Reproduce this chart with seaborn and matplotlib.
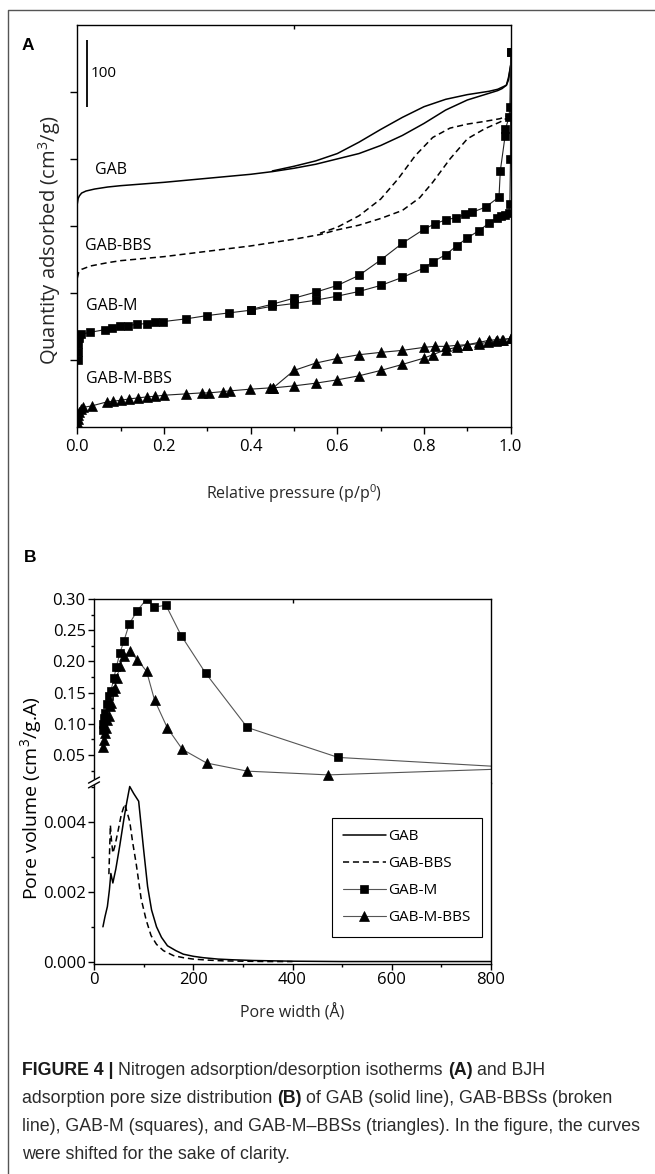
import numpy as np
import matplotlib
matplotlib.use("Agg")
import matplotlib.pyplot as plt
import seaborn as sns
from matplotlib.lines import Line2D
from matplotlib.ticker import MultipleLocator, FixedLocator, FormatStrFormatter
from matplotlib import font_manager

# ---------------- data: panel A (isotherms, curves shifted vertically) -------------
gab_ads_x = [0, 0.002, 0.005, 0.01, 0.02, 0.04, 0.07, 0.1, 0.2, 0.3, 0.4, 0.45, 0.5, 0.55,
             0.6, 0.65, 0.7, 0.75, 0.8, 0.85, 0.9, 0.95, 0.97, 0.98, 0.99, 0.995, 1.0]
gab_ads_y = [333, 341, 345, 349, 352, 355, 358, 360, 365, 371, 377, 381, 386, 392,
             400, 408, 420, 435, 453, 473, 488, 498, 502, 505, 510, 518, 540]
gab_des_x = [1.0, 0.995, 0.99, 0.97, 0.95, 0.9, 0.85, 0.8, 0.75, 0.7, 0.65, 0.6, 0.55, 0.5, 0.45]
gab_des_y = [540, 522, 510, 504, 501, 496, 489, 478, 462, 444, 425, 408, 397, 389, 382]

bbs_ads_x = [0, 0.003, 0.01, 0.03, 0.07, 0.1, 0.2, 0.3, 0.4, 0.5, 0.56, 0.6, 0.65, 0.7,
             0.75, 0.79, 0.82, 0.86, 0.9, 0.94, 0.975, 0.995, 1.0]
bbs_ads_y = [222, 230, 235, 240, 245, 248, 254, 262, 270, 280, 287, 294, 301, 311,
             323, 342, 365, 400, 430, 445, 455, 462, 468]
bbs_des_x = [1.0, 0.995, 0.975, 0.94, 0.9, 0.86, 0.82, 0.78, 0.74, 0.7, 0.65, 0.6, 0.56]
bbs_des_y = [468, 465, 460, 456, 452, 446, 432, 405, 370, 340, 315, 298, 289]

m_ads_x = [0.0005, 0.001, 0.002, 0.004, 0.008, 0.03, 0.064, 0.079, 0.098, 0.118, 0.137,
           0.16, 0.179, 0.198, 0.25, 0.30, 0.35, 0.40, 0.45, 0.50, 0.55, 0.60, 0.65, 0.70,
           0.75, 0.80, 0.82, 0.85, 0.875, 0.90, 0.927, 0.95, 0.968, 0.977, 0.987, 0.995,
           0.998, 0.9995, 1.0]
m_ads_y = [100, 112, 124, 133, 138, 141, 145, 147, 150, 151, 153, 154, 156, 157, 161, 166,
           170, 174, 180, 184, 189, 195, 202, 211, 223, 237, 246, 257, 270, 282, 293, 304,
           311, 314, 316, 319, 332, 400, 560]
m_des_x = [1.0, 0.998, 0.996, 0.988, 0.987, 0.976, 0.973, 0.942, 0.91, 0.895, 0.873, 0.85,
           0.825, 0.80, 0.75, 0.70, 0.65, 0.60, 0.55, 0.50, 0.45, 0.40]
m_des_y = [560, 478, 462, 445, 434, 382, 343, 328, 320, 317, 312, 309, 303, 295, 274, 249,
           226, 211, 201, 192, 183, 175]

mb_ads_x = [0.0005, 0.001, 0.002, 0.004, 0.008, 0.014, 0.033, 0.068, 0.083, 0.10, 0.12,
            0.14, 0.16, 0.18, 0.20, 0.25, 0.287, 0.304, 0.337, 0.352, 0.398, 0.445, 0.452,
            0.50, 0.55, 0.60, 0.65, 0.70, 0.75, 0.80, 0.82, 0.85, 0.875, 0.90, 0.927, 0.95,
            0.968, 0.983, 1.0]
mb_ads_y = [4, 11, 17, 22, 26, 29, 31, 37, 38, 39.5, 41.5, 43, 44.5, 45.5, 47, 49, 50.5,
            50.5, 52.5, 53.5, 56, 58, 58, 61, 65, 70, 76, 84, 93, 102.5, 107.5, 115, 118.5,
            122.5, 126, 129, 130, 130, 132]
mb_des_x = [1.0, 0.98, 0.965, 0.948, 0.927, 0.90, 0.875, 0.85, 0.825, 0.80, 0.75, 0.70,
            0.65, 0.60, 0.55, 0.50, 0.452]
mb_des_y = [132, 130, 128, 126, 124, 122.5, 121.5, 120, 120, 118.5, 114, 111, 107.5, 102,
            95, 84, 58]

series_names = ["GAB", "GAB-BBS", "GAB-M", "GAB-M-BBS"]
scale_bar_value = 100

# ---------------- data: panel B (BJH pore size distribution) -----------------------
gm_w = [18, 19, 21, 23, 26, 30, 34, 40, 45, 52, 60, 71, 87, 106, 121, 145, 176, 225, 309,
        492, 900]
gm_v = [0.090, 0.100, 0.110, 0.117, 0.132, 0.144, 0.152, 0.173, 0.191, 0.213, 0.232, 0.260,
        0.281, 0.300, 0.287, 0.290, 0.241, 0.181, 0.094, 0.046, 0.0275]

gmb_w = [18, 20, 23, 25, 26, 30, 32, 35, 38, 42, 46, 52, 60, 72, 87, 106, 122, 148, 178,
         227, 309, 472, 900]
gmb_v = [0.063, 0.074, 0.085, 0.093, 0.106, 0.112, 0.128, 0.133, 0.152, 0.157, 0.173,
         0.192, 0.208, 0.216, 0.203, 0.184, 0.138, 0.093, 0.059, 0.037, 0.024, 0.018, 0.0295]

g_w = [18, 22, 27, 31, 34, 38, 44, 52, 60, 66, 72, 80, 90, 100, 108, 116, 126, 136, 148,
       165, 180, 200, 220, 250, 280, 320, 400, 500, 600, 700, 800]
g_v = [0.00100, 0.00128, 0.00158, 0.00205, 0.00252, 0.00225, 0.00265, 0.00332, 0.00405,
       0.00455, 0.00500, 0.00480, 0.00458, 0.00320, 0.00215, 0.00148, 0.00100, 0.00070,
       0.00046, 0.00032, 0.00022, 0.00016, 0.00012, 0.00008, 0.00006, 0.00004, 0.00002,
       0.00001, 0.00001, 0.00001, 0.00001]

gb_w = [30, 33, 35, 38, 42, 48, 55, 62, 66, 72, 78, 85, 95, 105, 115, 126, 140, 160, 180,
        200, 230, 260, 300, 350, 400]
gb_v = [0.0025, 0.0039, 0.0035, 0.0031, 0.0033, 0.0037, 0.0042, 0.0045, 0.0043, 0.0040,
        0.0034, 0.0028, 0.0018, 0.0012, 0.00075, 0.0005, 0.00032, 0.00018, 0.00012, 0.00008,
        0.00005, 0.00003, 0.00002, 0.00001, 0.00001]

# ---------------- style ------------------------------------------------------------
sns.set_theme(style="ticks")
plt.rcParams["font.family"] = ["Open Sans", "DejaVu Sans"]
plt.rcParams["mathtext.fontset"] = "custom"
plt.rcParams["mathtext.rm"] = "Open Sans"
plt.rcParams["mathtext.it"] = "Open Sans:italic"
plt.rcParams["mathtext.bf"] = "Open Sans:bold"
plt.rcParams["axes.linewidth"] = 1.0
plt.rcParams["axes.edgecolor"] = "black"
plt.rcParams["xtick.color"] = "black"
plt.rcParams["ytick.color"] = "black"
plt.rcParams["text.color"] = "black"

W, H = 655, 1174
fig = plt.figure(figsize=(W / 100, H / 100), dpi=100)
fig.patch.set_facecolor("white")


def fx(px):
    return px / W


def fy(py):
    return 1 - py / H


def curve(ax, x, y, **kw):
    sns.lineplot(x=np.asarray(x, float), y=np.asarray(y, float), ax=ax, sort=False,
                 estimator=None, legend=False, **kw)
    return ax.lines[-1]


TICK_FS = 12
SOLID = dict(color="black", linewidth=1.1)
DASHED = dict(color="black", linewidth=1.1, linestyle=(0, (4, 2.5)))
SQ_A = dict(color="#222222", linewidth=0.8, marker="s", markersize=6.2,
            markerfacecolor="black", markeredgecolor="black", markeredgewidth=0.5)
TR_A = dict(color="#222222", linewidth=0.8, marker="^", markersize=7,
            markerfacecolor="black", markeredgecolor="black", markeredgewidth=0.5)
SQ_B = dict(color="#555555", linewidth=0.8, marker="s", markersize=5.6,
            markerfacecolor="black", markeredgecolor="black", markeredgewidth=0.5)
TR_B = dict(color="#555555", linewidth=0.8, marker="^", markersize=6.5,
            markerfacecolor="black", markeredgecolor="black", markeredgewidth=0.5)

# ---------------- panel A -----------------------------------------------------------
axA = fig.add_axes([fx(77.3), fy(426.7), fx(433.4), 401.7 / H])
curve(axA, gab_ads_x, gab_ads_y, **SOLID)
curve(axA, gab_des_x, gab_des_y, **SOLID)
curve(axA, bbs_ads_x, bbs_ads_y, **DASHED)
curve(axA, bbs_des_x, bbs_des_y, **DASHED)
curve(axA, m_ads_x, m_ads_y, **SQ_A)
curve(axA, m_des_x, m_des_y, **SQ_A)
curve(axA, mb_ads_x, mb_ads_y, **TR_A)
curve(axA, mb_des_x, mb_des_y, **TR_A)

axA.set_xlim(0, 1.0)
axA.set_ylim(0, 600)
axA.xaxis.set_major_locator(MultipleLocator(0.2))
axA.xaxis.set_minor_locator(MultipleLocator(0.1))
axA.xaxis.set_major_formatter(FormatStrFormatter("%.1f"))
axA.yaxis.set_major_locator(FixedLocator([100, 200, 300, 400, 500]))
axA.tick_params(axis="x", which="major", direction="out", length=5, width=1,
                labelsize=TICK_FS, pad=4)
axA.tick_params(axis="x", which="minor", direction="out", length=3, width=1)
axA.tick_params(axis="y", which="major", direction="out", length=5, width=1,
                labelleft=False)
axA.set_xlabel("Relative pressure (p/p$^{0}$)", fontsize=11.5)
axA.xaxis.set_label_coords(0.5, -0.167)
axA.xaxis.label.set_va("center")
axA.set_ylabel("Quantity adsorbed (cm$^{3}$/g)", fontsize=14.5)
axA.yaxis.set_label_coords(-0.063, 0.465)
axA.yaxis.label.set_va("center")
# single inward tick on the top axis
axA_top = axA.secondary_xaxis("top")
axA_top.set_xticks([0.5])
axA_top.tick_params(direction="in", length=3, width=1, labeltop=False)
axA_top.spines["top"].set_visible(False)

label_pos_x = [0.041, 0.018, 0.02, 0.02]
label_pos_y = [383, 270, 181, 71]
for name, lx, ly in zip(series_names, label_pos_x, label_pos_y):
    axA.text(lx, ly, name, fontsize=11.5, va="center", ha="left")

# scale bar "100"
axA.vlines(0.022, 578 - scale_bar_value, 578, color="black", linewidth=1.3)
axA.text(0.03, 578 - scale_bar_value / 2, str(scale_bar_value), fontsize=11,
         va="center", ha="left")

# ---------------- panel B (broken y axis) ------------------------------------------
axB1 = fig.add_axes([fx(94), fy(783), fx(397), 184 / H])
axB2 = fig.add_axes([fx(94), fy(964), fx(397), 181 / H])

hM = curve(axB1, gm_w, gm_v, **SQ_B)
hMB = curve(axB1, gmb_w, gmb_v, **TR_B)
hG = curve(axB2, g_w, g_v, **SOLID)
hGB = curve(axB2, gb_w, gb_v, **DASHED)

for ax in (axB1, axB2):
    ax.set_xlim(0, 800)

axB1.set_ylim(0.005, 0.30)
axB1.yaxis.set_major_locator(MultipleLocator(0.05))
axB1.yaxis.set_minor_locator(MultipleLocator(0.025))
axB1.yaxis.set_major_formatter(FormatStrFormatter("%.2f"))
axB1.set_yticks([0.05, 0.10, 0.15, 0.20, 0.25, 0.30])
axB1.spines["bottom"].set_visible(False)
axB1.set_xticks([400])
axB1.tick_params(axis="x", which="both", bottom=False, labelbottom=False, top=True,
                 direction="in", length=3, width=1)
axB1.tick_params(axis="y", which="major", direction="out", length=4.5, width=1,
                 labelsize=TICK_FS, pad=1.5)
axB1.tick_params(axis="y", which="minor", direction="out", length=2.5, width=1)

axB2.set_ylim(-0.00006, 0.0051)
axB2.set_yticks([0.000, 0.002, 0.004])
axB2.yaxis.set_minor_locator(MultipleLocator(0.001))
axB2.yaxis.set_major_formatter(FormatStrFormatter("%.3f"))
axB2.spines["top"].set_visible(False)
axB2.xaxis.set_major_locator(MultipleLocator(200))
axB2.xaxis.set_minor_locator(MultipleLocator(100))
axB2.xaxis.set_major_formatter(FormatStrFormatter("%d"))
axB2.tick_params(axis="both", which="major", direction="out", length=4.5, width=1,
                 labelsize=TICK_FS, pad=1.5)
axB2.tick_params(axis="both", which="minor", direction="out", length=2.5, width=1)
axB2.set_xlabel("Pore width (Å)", fontsize=11.5)
axB2.xaxis.set_label_coords(0.5, -0.27)
axB2.xaxis.label.set_va("center")

fig.text(fx(31), fy(798), "Pore volume (cm$^{3}$/g.A)", rotation=90, fontsize=14,
         ha="center", va="center")

leg = axB2.legend([hG, hGB, hM, hMB], series_names, loc="upper right",
                  bbox_to_anchor=(0.977, 0.807), frameon=True, fancybox=False,
                  edgecolor="black", framealpha=1, fontsize=11, handlelength=2.8,
                  handletextpad=0.15, labelspacing=0.78, borderpad=0.75,
                  borderaxespad=0)
leg.get_frame().set_linewidth(0.8)

# axis-break marks on the left spine
fig.add_artist(Line2D([fx(88.5), fx(99.5)], [fy(785.5), fy(779.5)], color="white",
                      linewidth=3.5, transform=fig.transFigure))
for dy in (-2.4, 2.4):
    fig.add_artist(Line2D([fx(88.5), fx(99.5)], [fy(785.5 + dy), fy(779.5 + dy)],
                          color="black", linewidth=1.0, transform=fig.transFigure))

# ---------------- panel letters and frame -------------------------------------------
fig.text(fx(22), fy(45), "A", fontsize=12.5, fontweight="bold",
         family=["Liberation Sans", "DejaVu Sans"], va="center", ha="left")
fig.text(fx(24), fy(558), "B", fontsize=12.5, fontweight="bold",
         family=["Liberation Sans", "DejaVu Sans"], va="center", ha="left")
fig.add_artist(Line2D([fx(8), fx(8), 1.0], [0.0, fy(10), fy(10)], color="#555555",
                      linewidth=1.0, transform=fig.transFigure))

# ---------------- caption -----------------------------------------------------------
names = {f.name for f in font_manager.fontManager.ttflist}
cap_family = ["Liberation Sans Narrow", "Liberation Sans", "DejaVu Sans"] \
    if "Liberation Sans Narrow" in names else ["Liberation Sans", "DejaVu Sans"]
renderer = fig.canvas.get_renderer()

caption_lines = [
    [("FIGURE 4 |", True), ("Nitrogen adsorption/desorption isotherms", False),
     ("(A)", True), ("and BJH", False)],
    [("adsorption pore size distribution", False), ("(B)", True),
     ("of GAB (solid line), GAB-BBSs (broken", False)],
    [("line), GAB-M (squares), and GAB-M\u2013BBSs (triangles). In the figure, the curves",
      False)],
    [("were shifted for the sake of clarity.", False)],
]


def text_w(s, size, bold):
    t = fig.text(0, 0, s, fontsize=size, family=cap_family,
                 fontweight="bold" if bold else "normal")
    w = t.get_window_extent(renderer).width
    t.remove()
    return w


ref = caption_lines[2][0][0]
cap_size = 12 * 620 / text_w(ref, 12, False)
space_w = text_w("a a", cap_size, False) - text_w("aa", cap_size, False)
baselines = [1075, 1103, 1131, 1159]
for runs, base in zip(caption_lines, baselines):
    x = 22
    for s, bold in runs:
        t = fig.text(fx(x), fy(base), s, fontsize=cap_size, family=cap_family,
                     fontweight="bold" if bold else "normal",
                     color="#1a1a1a" if bold else "#2b2b2b", va="baseline", ha="left")
        x += t.get_window_extent(renderer).width + space_w

fig.savefig("out.png", dpi=100, facecolor="white")
